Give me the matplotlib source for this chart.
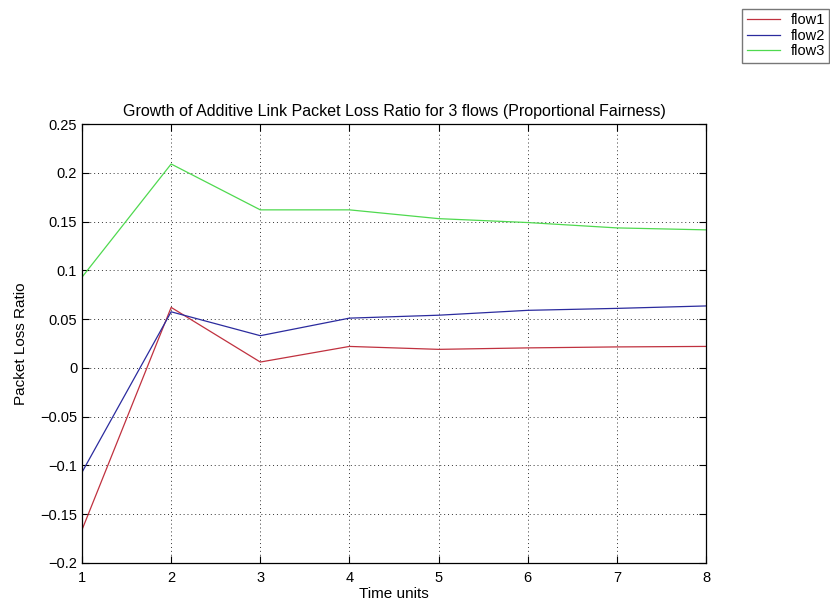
import matplotlib.pyplot as plt
from matplotlib.ticker import FuncFormatter

plt.rcParams['font.family'] = ['Liberation Sans', 'DejaVu Sans']

# Data
time_units = [1, 2, 3, 4, 5, 6, 7, 8]
flow1 = [-0.166, 0.062, 0.006, 0.022, 0.019, 0.0205, 0.0215, 0.022]
flow2 = [-0.107, 0.0575, 0.033, 0.051, 0.054, 0.059, 0.061, 0.0635]
flow3 = [0.093, 0.209, 0.162, 0.162, 0.153, 0.149, 0.1435, 0.1415]

fig = plt.figure(figsize=(8.3, 6.02), dpi=100)
ax = fig.add_axes([0.0988, 0.0648, 0.7518, 0.7292])

l1, = ax.plot(time_units, flow1, color='#c0313f', linewidth=0.9, label='flow1')
l2, = ax.plot(time_units, flow2, color='#2b2b9e', linewidth=0.9, label='flow2')
l3, = ax.plot(time_units, flow3, color='#4fd94f', linewidth=0.9, label='flow3')

ax.set_xlim(1, 8)
ax.set_ylim(-0.2, 0.25)
ax.set_xticks(range(1, 9))
ax.set_yticks([-0.2, -0.15, -0.1, -0.05, 0, 0.05, 0.1, 0.15, 0.2, 0.25])
ax.yaxis.set_major_formatter(
    FuncFormatter(lambda v, p: ('%g' % round(v, 2)).replace('-', '\u2212')))
ax.tick_params(direction='in', top=True, right=True, labelsize=10.5, length=5)
ax.tick_params(axis='x', pad=6)
ax.grid(True, linestyle=(0, (1, 3)), color='black', linewidth=0.7, alpha=0.8)
for s in ax.spines.values():
    s.set_linewidth(0.9)

ax.set_xlabel('Time units', fontsize=11, labelpad=1)
ax.set_ylabel('Packet Loss Ratio', fontsize=11, labelpad=9)
ax.set_title('Growth of Additive Link Packet Loss Ratio for 3 flows (Proportional Fairness)',
             fontsize=11.5, pad=6)

fig.legend(handles=[l1, l2, l3], loc='upper right', bbox_to_anchor=(0.999, 0.985),
           fontsize=10.5, frameon=True, fancybox=False, edgecolor='#555555',
           handlelength=2.3, borderpad=0.3, labelspacing=0.1, handletextpad=0.7,
           borderaxespad=0.0)

fig.savefig('out.png', dpi=100)
